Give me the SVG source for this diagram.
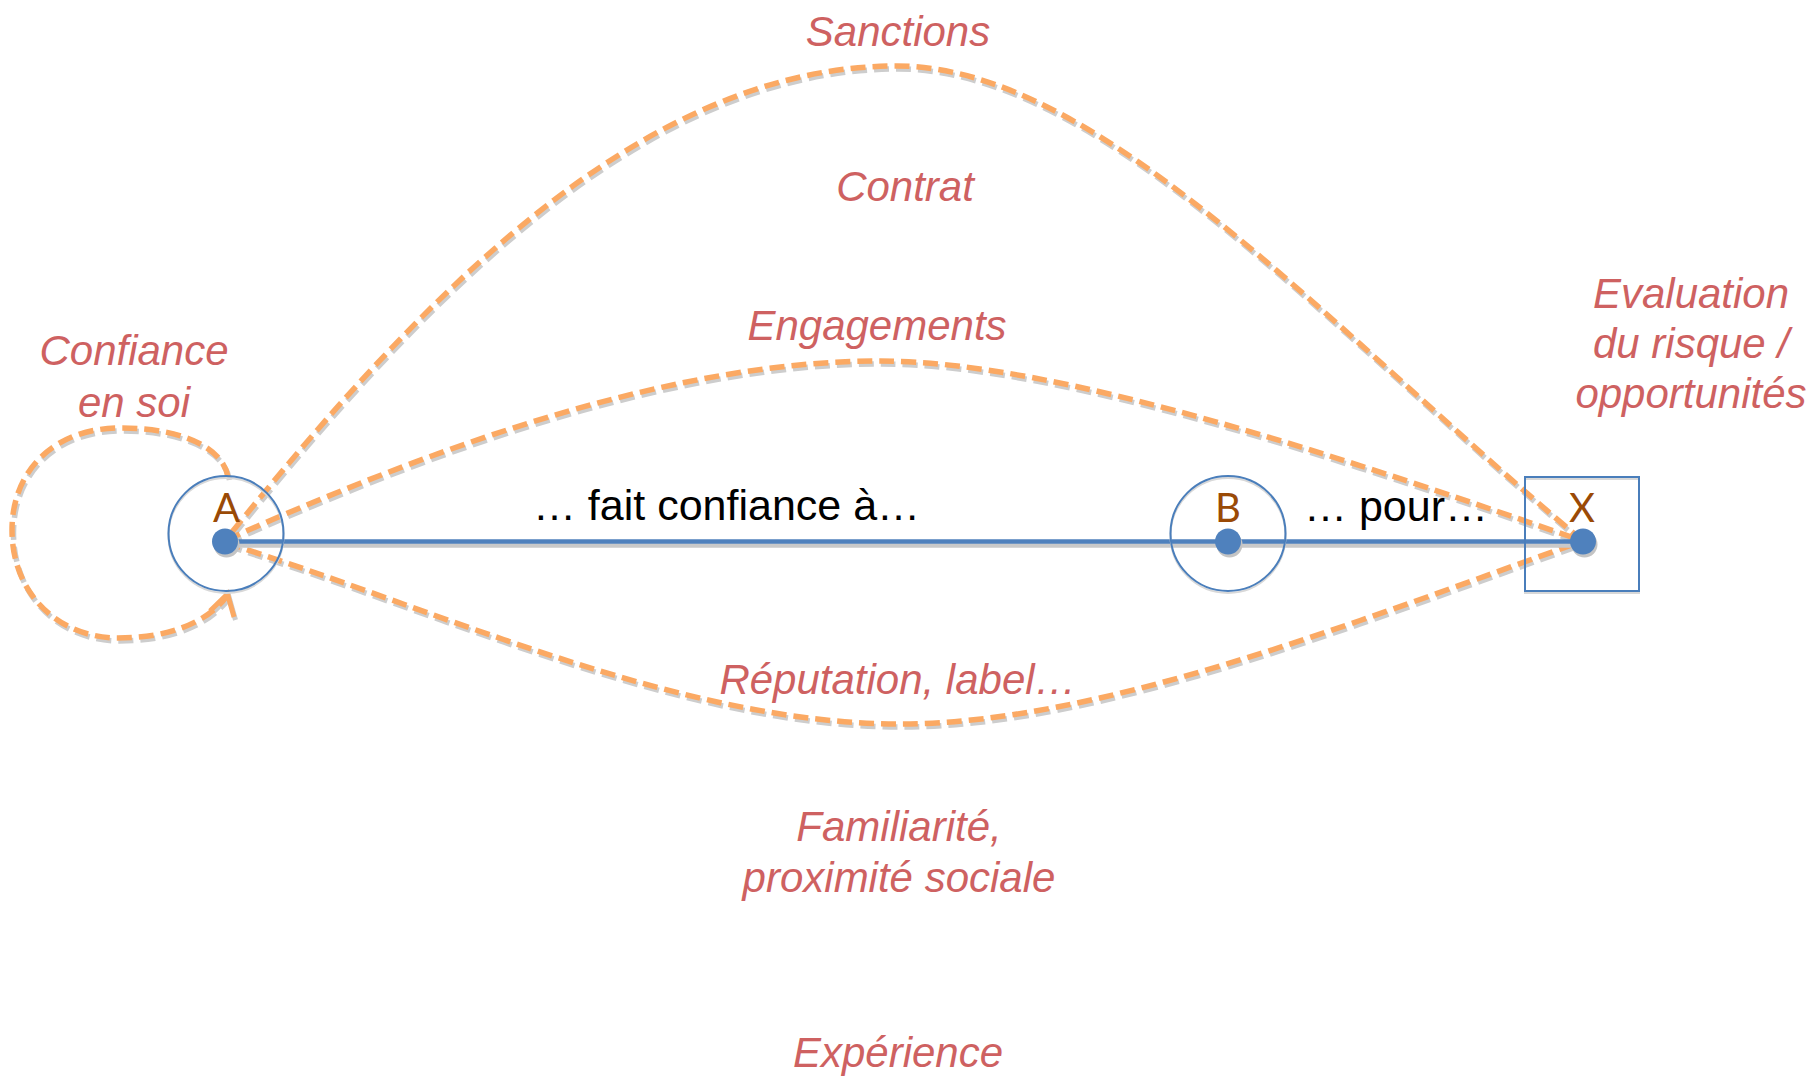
<svg xmlns="http://www.w3.org/2000/svg" xmlns:xlink="http://www.w3.org/1999/xlink" width="1814" height="1076" viewBox="0 0 1814 1076">
  <style>
    .dash { fill: none; stroke: #FBA963; stroke-width: 5.5; stroke-dasharray: 15 7; }
    .dash-shadow { fill: none; stroke: #CDCDCD; stroke-width: 5.5; stroke-dasharray: 15 7; }
    .ring { fill: none; stroke: #4A7EBB; stroke-width: 2; }
    .ring-shadow { fill: none; stroke: #D8D8D8; stroke-width: 2; }
    .dot { fill: #4F81BD; }
    .dot-shadow { fill: #C4C4C4; }
    .label { font-family: "Liberation Sans", Arial, sans-serif; font-style: italic; font-size: 42px; fill: #CE6161; text-anchor: middle; }
    .rel { font-family: "Liberation Sans", Arial, sans-serif; font-size: 43px; fill: #000000; text-anchor: middle; }
    .letter { font-family: Lato, "Open Sans", sans-serif; font-size: 40px; fill: #9A4A06; text-anchor: middle; }
  </style>
  <defs>
    <path id="c-sanctions" d="M232,532 C420,300 640,66 897,66 C1100,66 1330,330 1583,541"/>
    <path id="c-engagements" d="M226,540 C450,440 680,361 880,361 C1060,361 1350,460 1583,541"/>
    <path id="c-reputation" d="M226,543 C440,610 680,724 900,724 C1100,724 1360,620 1583,541"/>
    <path id="c-self" d="M228,477 C224,452 190,428 120,428 C55,428 12,470 12,530 C12,595 60,638 118,638 C165,638 205,625 227,596"/>
    <polyline id="c-self-head" points="210,611 227.5,594 234,617"/>
  </defs>

  <!-- dashed influence curves -->
  <g id="connectors">
    <g transform="translate(1.5,3)">
      <use xlink:href="#c-sanctions" class="dash-shadow"/>
      <use xlink:href="#c-engagements" class="dash-shadow"/>
      <use xlink:href="#c-reputation" class="dash-shadow"/>
      <use xlink:href="#c-self" class="dash-shadow"/>
      <use xlink:href="#c-self-head" fill="none" stroke="#CDCDCD" stroke-width="5"/>
    </g>
    <use xlink:href="#c-sanctions" class="dash"/>
    <use xlink:href="#c-engagements" class="dash"/>
    <use xlink:href="#c-reputation" class="dash"/>
    <use xlink:href="#c-self" class="dash"/>
    <use xlink:href="#c-self-head" fill="none" stroke="#FBA963" stroke-width="5" stroke-linejoin="miter"/>

    <!-- trust relation A - B - X -->
    <line x1="225" y1="545.5" x2="1583" y2="545.5" stroke="#C9C9C9" stroke-width="4.5"/>
    <line x1="225" y1="541.5" x2="1583" y2="541.5" stroke="#4F81BD" stroke-width="4.5"/>
  </g>

  <g id="node-a">
    <circle class="ring-shadow" cx="226" cy="535.5" r="57.5"/>
    <circle class="ring" cx="226" cy="533.5" r="57.5"/>
    <circle class="dot-shadow" cx="226.5" cy="544.5" r="13"/>
    <circle class="dot" cx="225" cy="541.5" r="13"/>
    <text class="letter" x="226.5" y="521.5">A</text>
  </g>

  <g id="node-b">
    <circle class="ring-shadow" cx="1228" cy="535.5" r="57.5"/>
    <circle class="ring" cx="1228" cy="533.5" r="57.5"/>
    <circle class="dot-shadow" cx="1229.5" cy="544.5" r="13"/>
    <circle class="dot" cx="1228" cy="541.5" r="13"/>
    <text class="letter" x="1228" y="521.5">B</text>
  </g>

  <g id="node-x">
    <rect x="1525" y="479" width="114" height="114" fill="none" stroke="#D8D8D8" stroke-width="2"/>
    <rect x="1525" y="477" width="114" height="114" fill="none" stroke="#4A7EBB" stroke-width="2"/>
    <circle class="dot-shadow" cx="1584.5" cy="544.5" r="13"/>
    <circle class="dot" cx="1583" cy="541.5" r="13"/>
    <text class="letter" x="1582" y="521.5">X</text>
  </g>

  <g id="relation-labels">
    <text class="rel" x="726.5" y="520">… fait confiance à…</text>
    <text class="rel" x="1396" y="521">… pour…</text>
  </g>

  <g id="factor-labels">
    <text class="label" x="898" y="46">Sanctions</text>
    <text class="label" x="905" y="201">Contrat</text>
    <text class="label" x="877" y="340">Engagements</text>
    <text class="label" x="898" y="694">Réputation, label…</text>
    <text class="label" x="899" y="841">Familiarité,</text>
    <text class="label" x="899" y="892">proximité sociale</text>
    <text class="label" x="898" y="1067">Expérience</text>
    <text class="label" x="134" y="365">Confiance</text>
    <text class="label" x="134" y="417">en soi</text>
    <text class="label" x="1691" y="308">Evaluation</text>
    <text class="label" x="1691" y="358">du risque /</text>
    <text class="label" x="1691" y="408">opportunités</text>
  </g>
</svg>
